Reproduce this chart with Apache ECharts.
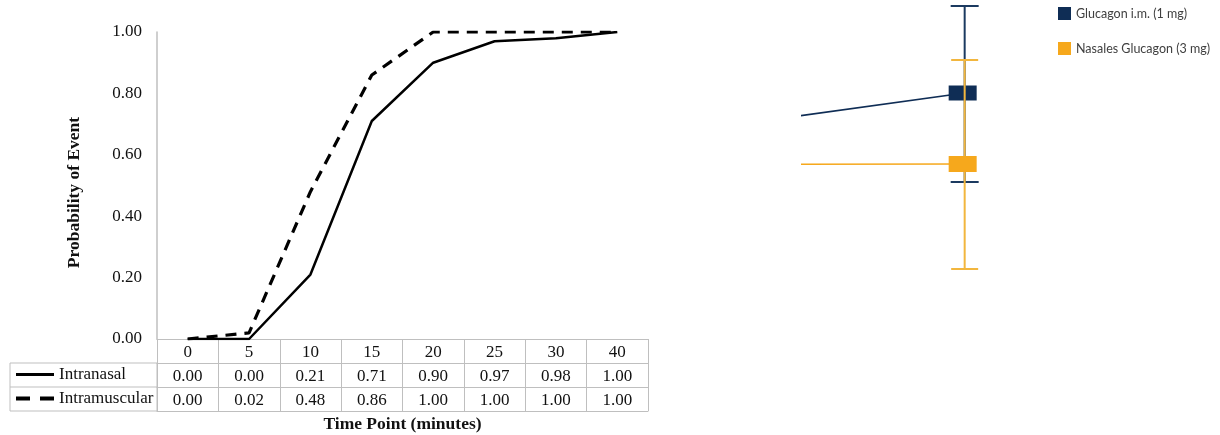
<!DOCTYPE html>
<html>
<head>
<meta charset="utf-8">
<script src="https://cdn.jsdelivr.net/npm/echarts@6/dist/echarts.min.js"></script>
<style>
  html, body { margin: 0; padding: 0; background: #fff; }
  #chart { width: 1220px; height: 435px; }
</style>
</head>
<body>
<div id="chart"></div>
<script>
// Cumulative probability of response by time point
const timePoints = ['0', '5', '10', '15', '20', '25', '30', '40'];
const intranasal = [0.00, 0.00, 0.21, 0.71, 0.90, 0.97, 0.98, 1.00];
const intramuscular = [0.00, 0.02, 0.48, 0.86, 1.00, 1.00, 1.00, 1.00];
const yTicks = { min: 0, max: 1, step: 0.2 };

// Glucagon comparison panel: previous visit and last visit (mean with range)
const visitX = [0, 1];
const imMean = [101, 123.5];
const imRange = [79, 167];
const nasalMean = [87.8, 88];
const nasalRange = [35.5, 140];

const SERIF = '"Liberation Serif", "Times New Roman", serif';
const GRID_GRAY = '#bfbfbf';
const NAVY = '#0f2d55';
const NAVY_BAR = '#1b3a60';
const ORANGE = '#f6a81c';
const ORANGE_BAR = '#f2b63e';

const chart = echarts.init(document.getElementById('chart'), null, { renderer: 'canvas' });

// One category axis per table row, stacked under the plot
function tableAxis(offset, formatter, extra) {
  return Object.assign({
    type: 'category',
    gridIndex: 0,
    data: timePoints,
    boundaryGap: true,
    position: 'bottom',
    offset: offset,
    axisLine: { show: true, lineStyle: { color: GRID_GRAY, width: 1 } },
    axisTick: { show: true, length: 24, interval: 0, alignWithLabel: false,
                lineStyle: { color: GRID_GRAY, width: 1 } },
    axisLabel: { show: true, interval: 0, margin: 5, color: '#111',
                 fontFamily: SERIF, fontSize: 17, formatter: formatter },
    splitLine: { show: false }
  }, extra || {});
}

function errorBar(color, capW) {
  return function (params, api) {
    const x = api.value(0);
    const lo = api.coord([x, api.value(1)]);
    const hi = api.coord([x, api.value(2)]);
    const st = { stroke: color, lineWidth: 2 };
    return {
      type: 'group',
      children: [
        { type: 'line', shape: { x1: lo[0], y1: hi[1], x2: lo[0], y2: lo[1] }, style: st },
        { type: 'line', shape: { x1: lo[0] - capW / 2, y1: hi[1], x2: lo[0] + capW / 2, y2: hi[1] }, style: st },
        { type: 'line', shape: { x1: lo[0] - capW / 2, y1: lo[1], x2: lo[0] + capW / 2, y2: lo[1] }, style: st }
      ]
    };
  };
}

const option = {
  animation: false,
  backgroundColor: '#ffffff',
  grid: [
    { left: 157, right: 572, top: 32, bottom: 96, outerBoundsMode: 'none', containLabel: false },
    { left: 802, right: 174, top: 0, height: 340, outerBoundsMode: 'none', containLabel: false }
  ],
  xAxis: [
    tableAxis(0, v => v),
    tableAxis(24, (v, i) => intranasal[i].toFixed(2)),
    tableAxis(48, (v, i) => intramuscular[i].toFixed(2)),
    tableAxis(72, null, {
      axisTick: { show: false },
      axisLabel: { show: false },
      name: 'Time Point (minutes)',
      nameLocation: 'middle',
      nameGap: 4,
      nameTextStyle: { fontFamily: SERIF, fontSize: 17.5, fontWeight: 'bold', color: '#111' }
    }),
    { type: 'value', gridIndex: 1, min: 0.5, max: 1.25, show: false }
  ],
  yAxis: [
    {
      type: 'value', gridIndex: 0,
      min: yTicks.min, max: yTicks.max, interval: yTicks.step,
      axisLine: { show: true, lineStyle: { color: GRID_GRAY, width: 1.5 } },
      axisTick: { show: false },
      splitLine: { show: false },
      axisLabel: { margin: 15, color: '#111', fontFamily: SERIF, fontSize: 17,
                   padding: [4, 0, 0, 0],
                   formatter: v => v.toFixed(2) },
      name: 'Probability of Event',
      nameLocation: 'middle',
      nameGap: 74,
      nameTextStyle: { fontFamily: SERIF, fontSize: 17.5, fontWeight: 'bold', color: '#111',
                       padding: [0, 14, 0, 0] }
    },
    { type: 'value', gridIndex: 1, min: 0, max: 170, show: false }
  ],
  legend: [
    {
      data: [
        { name: 'Intranasal', lineStyle: { type: 'solid', width: 3, color: '#000' } },
        { name: 'Intramuscular', lineStyle: { type: [14, 10], width: 4, color: '#000' } }
      ],
      orient: 'vertical',
      left: 14, top: 366, padding: 0,
      itemWidth: 38, itemHeight: 14, itemGap: 7,
      selectedMode: false,
      itemStyle: { color: 'transparent', borderWidth: 0, opacity: 0 },
      textStyle: { fontFamily: SERIF, fontSize: 17, color: '#111' }
    },
    {
      data: ['Glucagon i.m. (1 mg)', 'Nasales Glucagon (3 mg)'],
      orient: 'vertical',
      left: 1058, top: 7, padding: 0,
      icon: 'rect',
      itemWidth: 13, itemHeight: 13, itemGap: 22,
      selectedMode: false,
      textStyle: { fontFamily: 'Lato, "Noto Sans", sans-serif', fontSize: 12.5,
                   lineHeight: 13, color: '#404040' }
    }
  ],
  graphic: [
    // left-hand block of the data table (row labels)
    { type: 'rect', shape: { x: 10, y: 363, width: 147, height: 48 },
      style: { fill: 'none', stroke: GRID_GRAY, lineWidth: 1 }, silent: true },
    { type: 'line', shape: { x1: 10, y1: 387, x2: 157, y2: 387 },
      style: { stroke: GRID_GRAY, lineWidth: 1 }, silent: true }
  ],
  series: [
    {
      name: 'Intranasal', type: 'line',
      xAxisIndex: 0, yAxisIndex: 0,
      data: intranasal,
      symbol: 'none',
      color: '#000',
      lineStyle: { color: '#000', width: 2.5, type: 'solid' }
    },
    {
      name: 'Intramuscular', type: 'line',
      xAxisIndex: 0, yAxisIndex: 0,
      data: intramuscular,
      symbol: 'none',
      color: '#000',
      lineStyle: { color: '#000', width: 3.2, type: [11, 8] }
    },
    {
      type: 'custom', xAxisIndex: 4, yAxisIndex: 1, z: 2,
      renderItem: errorBar(NAVY_BAR, 28),
      encode: { x: 0, y: [1, 2] },
      data: [[visitX[1], imRange[0], imRange[1]]]
    },
    {
      name: 'Glucagon i.m. (1 mg)', type: 'line',
      xAxisIndex: 4, yAxisIndex: 1, z: 3,
      data: visitX.map((x, i) => [x, imMean[i]]),
      color: NAVY,
      symbol: 'rect', symbolSize: [28, 15], symbolOffset: [-2, 0],
      itemStyle: { color: NAVY },
      lineStyle: { color: NAVY, width: 1.6 },
      clip: true
    },
    {
      type: 'custom', xAxisIndex: 4, yAxisIndex: 1, z: 4,
      renderItem: errorBar(ORANGE_BAR, 27),
      encode: { x: 0, y: [1, 2] },
      data: [[visitX[1], nasalRange[0], nasalRange[1]]]
    },
    {
      name: 'Nasales Glucagon (3 mg)', type: 'line',
      xAxisIndex: 4, yAxisIndex: 1, z: 5,
      data: visitX.map((x, i) => [x, nasalMean[i]]),
      color: ORANGE,
      symbol: 'rect', symbolSize: [28, 16], symbolOffset: [-2, 0],
      itemStyle: { color: ORANGE },
      lineStyle: { color: ORANGE, width: 1.6 },
      clip: true
    }
  ]
};

chart.setOption(option);
</script>
</body>
</html>
